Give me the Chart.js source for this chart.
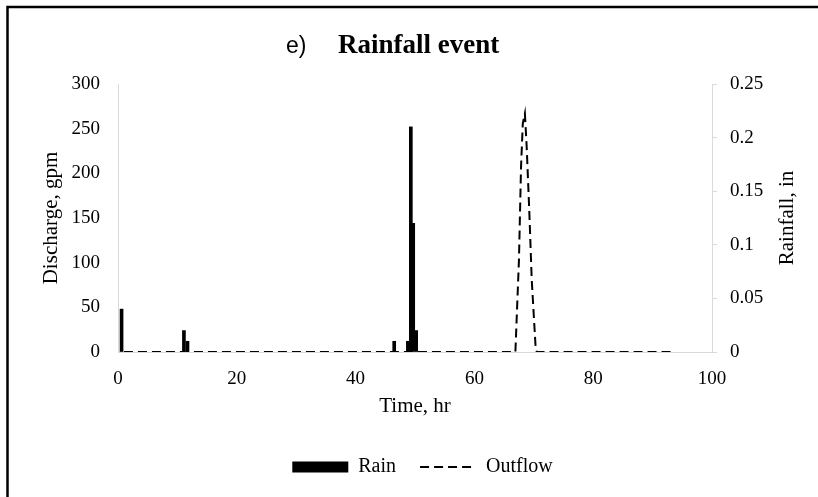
<!DOCTYPE html>
<html lang="en">
<head>
<meta charset="UTF-8">
<title>Rainfall event</title>
<script src="https://cdn.jsdelivr.net/npm/chart.js"></script>
<style>
  body { margin: 0; background: #fff; }
  canvas { display: block; }
</style>
</head>
<body>
<canvas id="rainChart" width="818" height="497"></canvas>
<script>
// rain (right axis, inches)
const rainTime = [0.6, 11.1, 11.7, 46.5, 48.8, 49.3, 49.7, 50.2];
const rainDepth = [0.04, 0.02, 0.01, 0.01, 0.01, 0.21, 0.12, 0.02];

// outflow (left axis, gpm)
const outflowTime = [1, 66.9, 67.5, 67.85, 68.15, 68.5, 68.8, 69.25, 69.65, 70.3, 70.5, 93.3];
const outflowRate = [0, 0, 103, 207, 256, 267, 230, 156, 81, 6, 0, 0];

// tick labels
const timeTicks = [0, 20, 40, 60, 80, 100];
const dischargeTicks = [0, 50, 100, 150, 200, 250, 300];
const rainfallTicks = [0, 0.05, 0.1, 0.15, 0.2, 0.25];

const serif = 'Liberation Serif';
const axisGray = '#d9d9d9';

// frame lines, the two-font title, and the right axis title (reads bottom-up like the left one)
const frameAndTitle = {
  id: 'frameAndTitle',
  afterDraw(chart) {
    const ctx = chart.ctx;
    ctx.save();
    ctx.strokeStyle = '#000';
    ctx.lineWidth = 2.5;
    ctx.beginPath();
    ctx.moveTo(7.5, 497);
    ctx.lineTo(7.5, 7);
    ctx.lineTo(818, 7);
    ctx.stroke();

    ctx.fillStyle = '#000';
    ctx.textBaseline = 'alphabetic';
    ctx.font = '23px "Liberation Sans"';
    ctx.fillText('e)', 286, 53);
    ctx.font = 'bold 27px "Liberation Serif"';
    ctx.fillText('Rainfall event', 338, 53);

    const area = chart.chartArea;
    ctx.translate(787, (area.top + area.bottom) / 2);
    ctx.rotate(-Math.PI / 2);
    ctx.font = '21px "Liberation Serif"';
    ctx.textAlign = 'center';
    ctx.textBaseline = 'middle';
    ctx.fillText('Rainfall, in', 0, 0);
    ctx.restore();
  }
};

const legendLook = {
  Rain: { pointStyle: 'rect', lineWidth: 0 },
  Outflow: { pointStyle: 'line', lineWidth: 2, lineDash: [9, 5], strokeStyle: '#000' }
};

const ctx = document.getElementById('rainChart').getContext('2d');
const rainChart = new Chart(ctx, {
  data: {
    datasets: [
      {
        type: 'bar',
        label: 'Rain',
        data: rainTime.map((t, i) => ({ x: t, y: rainDepth[i] })),
        yAxisID: 'yRain',
        backgroundColor: '#000',
        borderWidth: 0,
        barThickness: 3
      },
      {
        type: 'line',
        label: 'Outflow',
        data: outflowTime.map((t, i) => ({ x: t, y: outflowRate[i] })),
        yAxisID: 'yFlow',
        borderColor: '#000',
        borderWidth: 2,
        borderDash: [9, 5],
        pointRadius: 0,
        fill: false,
        tension: 0
      }
    ]
  },
  options: {
    responsive: false,
    animation: false,
    layout: { padding: { left: 27, right: 0, top: 84, bottom: 10 } },
    plugins: {
      tooltip: { enabled: false },
      legend: {
        position: 'bottom',
        labels: {
          usePointStyle: true,
          pointStyleWidth: 56,
          boxHeight: 11,
          padding: 24,
          color: '#000',
          font: { family: serif, size: 20 },
          generateLabels(chart) {
            const items = Chart.defaults.plugins.legend.labels.generateLabels(chart);
            return items.map(item => Object.assign(item, legendLook[item.text]));
          }
        }
      }
    },
    scales: {
      x: {
        type: 'linear',
        min: 0,
        max: 100,
        offset: false,
        afterBuildTicks: s => { s.ticks = timeTicks.map(v => ({ value: v })); },
        afterFit: s => { s.height = 81; },
        grid: { display: false, offset: false },
        border: { color: axisGray, width: 1 },
        ticks: { color: '#000', padding: 8, font: { family: serif, size: 19 } },
        title: {
          display: true, text: 'Time, hr', color: '#000',
          font: { family: serif, size: 21 }, padding: { top: 0, bottom: 14 }
        }
      },
      yFlow: {
        position: 'left',
        min: 0,
        max: 300,
        afterBuildTicks: s => { s.ticks = dischargeTicks.map(v => ({ value: v })); },
        afterFit: s => { s.width = 91; },
        grid: { display: false, drawTicks: false },
        border: { color: axisGray, width: 1 },
        ticks: { color: '#000', padding: 18, font: { family: serif, size: 19 } },
        title: {
          display: true, text: 'Discharge, gpm', color: '#000',
          font: { family: serif, size: 21 }, padding: { top: 12, bottom: 0 }
        }
      },
      yRain: {
        position: 'right',
        min: 0,
        max: 0.25,
        afterBuildTicks: s => { s.ticks = rainfallTicks.map(v => ({ value: v })); },
        afterFit: s => { s.width = 106; },
        grid: { drawOnChartArea: false, drawTicks: true, tickLength: 5, color: axisGray },
        border: { color: axisGray, width: 1 },
        ticks: { color: '#000', padding: 13, font: { family: serif, size: 19 }, callback: v => String(v) }
      }
    }
  },
  plugins: [frameAndTitle]
});
</script>
</body>
</html>
